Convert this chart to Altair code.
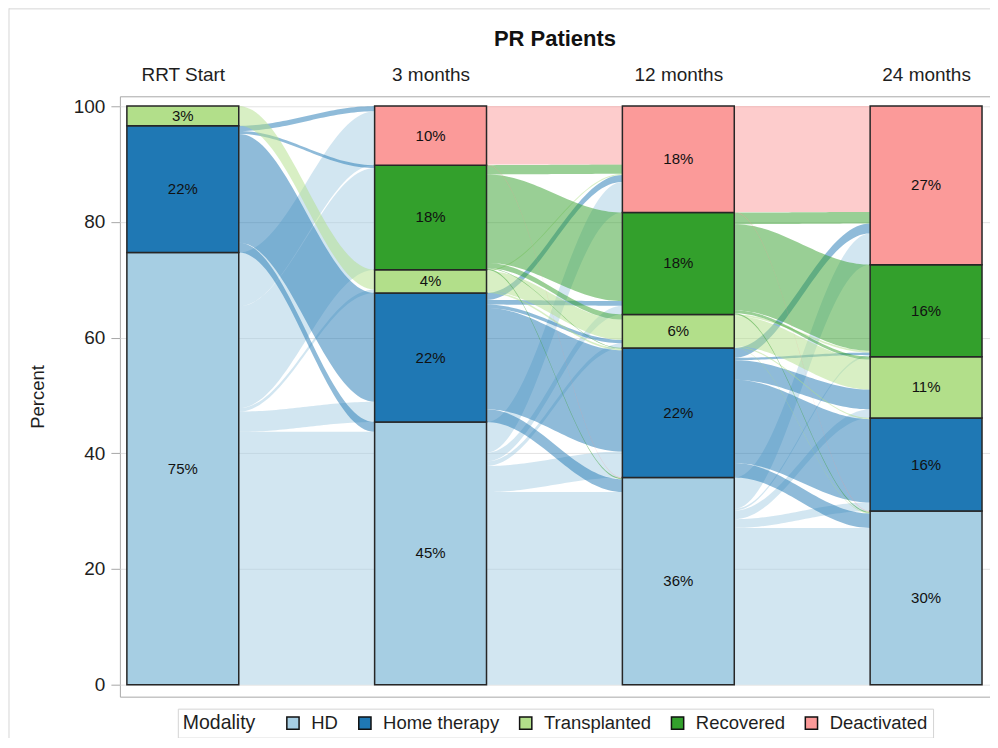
import json
import numpy as np
import pandas as pd
import altair as alt

# ---------------- data ----------------
time_labels = ["RRT Start", "3 months", "12 months", "24 months"]
time_pos = [0, 1, 2, 3]
categories = ["HD", "Home therapy", "Transplanted", "Recovered", "Deactivated"]
colors = ["#A6CEE3", "#1F78B4", "#B2DF8A", "#33A02C", "#FB9A99"]

# percent of patients in each modality (bottom -> top)
pct_rrt = [74.7, 21.9, 3.4, 0.0, 0.0]
pct_3m = [45.4, 22.3, 4.0, 18.1, 10.2]
pct_12m = [35.8, 22.4, 5.8, 17.6, 18.4]
pct_24m = [30.0, 16.1, 10.6, 15.9, 27.4]

# transitions (rows = from, columns = to), percent of patients
flow_rrt_3m = [
    [43.7, 3.5, 0.6, 17.6, 9.3],
    [1.7, 18.8, 0.0, 0.5, 0.9],
    [0.0, 0.0, 3.4, 0.0, 0.0],
    [0.0, 0.0, 0.0, 0.0, 0.0],
    [0.0, 0.0, 0.0, 0.0, 0.0],
]
flow_3m_12m = [
    [33.3, 4.5, 0.8, 1.5, 5.3],
    [2.2, 17.5, 0.6, 0.8, 1.2],
    [0.0, 0.3, 3.5, 0.0, 0.2],
    [0.2, 0.1, 0.9, 15.3, 1.6],
    [0.1, 0.0, 0.0, 0.0, 10.1],
]
flow_12m_24m = [
    [27.1, 1.5, 1.5, 0.3, 5.4],
    [2.5, 14.4, 3.4, 0.4, 1.7],
    [0.1, 0.2, 5.2, 0.3, 0.0],
    [0.2, 0.0, 0.5, 14.9, 2.0],
    [0.1, 0.0, 0.0, 0.0, 18.3],
]

node_values = [pct_rrt, pct_3m, pct_12m, pct_24m]
transitions = [flow_rrt_3m, flow_3m_12m, flow_12m_24m]

BAR_HALF = 0.2258  # half bar width in x units

# ---------------- tables ----------------
bar_rows = []
for t, vals in enumerate(node_values):
    base = 0.0
    for c, v in enumerate(vals):
        if v > 0:
            bar_rows.append(dict(
                time=time_pos[t], x0=time_pos[t] - BAR_HALF, x1=time_pos[t] + BAR_HALF,
                y0=base, y1=base + v, ymid=base + v / 2,
                cat=categories[c], label=f"{round(v)}%"))
        base += v
bars_df = pd.DataFrame(bar_rows)

steps = np.linspace(0.0, 1.0, 41)
ease = (1 - np.cos(np.pi * steps)) / 2
flow_rows = []
fid = 0
n = len(categories)
for k, mat in enumerate(transitions):
    sv, tv = node_values[k], node_values[k + 1]
    sbase = np.concatenate([[0.0], np.cumsum(sv)[:-1]])
    tbase = np.concatenate([[0.0], np.cumsum(tv)[:-1]])
    spos, tpos = {}, {}
    for i in range(n):
        rs = sum(mat[i])
        c = sbase[i]
        for j in range(n):
            f = mat[i][j]
            if f > 0:
                h = f * sv[i] / rs
                spos[(i, j)] = (c, c + h)
                c += h
    for j in range(n):
        cs = sum(mat[i][j] for i in range(n))
        c = tbase[j]
        for i in range(n):
            f = mat[i][j]
            if f > 0:
                h = f * tv[j] / cs
                tpos[(i, j)] = (c, c + h)
                c += h
    xa = time_pos[k] + BAR_HALF
    xb = time_pos[k + 1] - BAR_HALF
    for (i, j), (a0, a1) in spos.items():
        b0, b1 = tpos[(i, j)]
        for s, e in zip(steps, ease):
            flow_rows.append(dict(
                fid=fid, src=categories[i],
                x=xa + (xb - xa) * s,
                lo=a0 + (b0 - a0) * e,
                hi=a1 + (b1 - a1) * e))
        fid += 1
flows_df = pd.DataFrame(flow_rows)

# ---------------- chart ----------------
FONT = "Liberation Sans"
TXT = "#1e1e1e"

x_scale = alt.Scale(domain=[-0.254, 3.258], nice=False, zero=False)
y_scale = alt.Scale(domain=[-2.07, 101.7], nice=False, zero=False)
color_scale = alt.Scale(domain=categories, range=colors)

x_axis = alt.Axis(
    orient="top", values=time_pos,
    labelExpr=json.dumps(time_labels) + "[datum.value]",
    ticks=False, domain=False, grid=False, labelFlush=False,
    labelFontSize=19, labelColor=TXT, labelPadding=12, title=None)
y_axis = alt.Axis(
    values=[0, 20, 40, 60, 80, 100], title="Percent",
    titleFontSize=18.5, titleFontWeight="normal", titleColor=TXT, titlePadding=26,
    labelFontSize=19, labelColor=TXT, labelPadding=6,
    tickColor="#A8A8A8", tickSize=9, domain=False,
    grid=True, gridColor="#E2E2E2", gridWidth=1)

legend = alt.Legend(
    orient="none", legendX=58, legendY=613, direction="horizontal",
    title="Modality", titleOrient="left", titleFontSize=19.5, titleFontWeight="normal",
    titleColor=TXT, titlePadding=28, titleBaseline="middle",
    labelFontSize=18.5, labelColor=TXT, labelOffset=9,
    symbolType="square", symbolSize=150, symbolStrokeColor="#111111",
    symbolStrokeWidth=1.5, symbolOpacity=1, columnPadding=17,
    strokeColor="#D4D4D4", fillColor="white", padding=5)

flows = alt.Chart(flows_df).mark_area(opacity=0.5, interpolate="linear").encode(
    x=alt.X("x:Q", scale=x_scale, axis=x_axis),
    y=alt.Y("lo:Q", scale=y_scale, axis=y_axis, stack=None),
    y2="hi:Q",
    color=alt.Color("src:N", scale=color_scale, legend=legend),
    detail="fid:N",
)

bars = alt.Chart(bars_df).mark_rect(stroke="#262626", strokeWidth=1.5).encode(
    x=alt.X("x0:Q", scale=x_scale, axis=x_axis),
    x2="x1:Q",
    y=alt.Y("y0:Q", scale=y_scale, axis=y_axis),
    y2="y1:Q",
    color=alt.Color("cat:N", scale=color_scale, legend=legend),
)

labels = alt.Chart(bars_df).mark_text(fontSize=15, color="#111111", font=FONT).encode(
    x=alt.X("time:Q", scale=x_scale, axis=x_axis),
    y=alt.Y("ymid:Q", scale=y_scale, axis=y_axis),
    text="label:N",
)

frame_df = pd.DataFrame({"k": [0]})
border_left = alt.Chart(frame_df).mark_rule(color="#D6D6D6", strokeWidth=1).encode(
    x=alt.value(-111), y=alt.value(-88), y2=alt.value(660))
border_top = alt.Chart(frame_df).mark_rule(color="#D6D6D6", strokeWidth=1).encode(
    x=alt.value(-111), x2=alt.value(900), y=alt.value(-87.5))

chart = alt.layer(flows, bars, labels, border_left, border_top).properties(
    width=871, height=601,
    title=alt.Title("PR Patients", fontSize=22, fontWeight="bold", anchor="middle",
                    frame="group", baseline="alphabetic", offset=-60,
                    color="#111111", font=FONT),
    autosize=alt.AutoSizeParams(type="none"),
    padding={"left": 112, "top": 88, "right": 0, "bottom": 41},
).configure(font=FONT).configure_view(stroke="#A9A9A9", strokeWidth=1)

chart.save("out.html", embed_options={"renderer": "svg", "actions": False})
